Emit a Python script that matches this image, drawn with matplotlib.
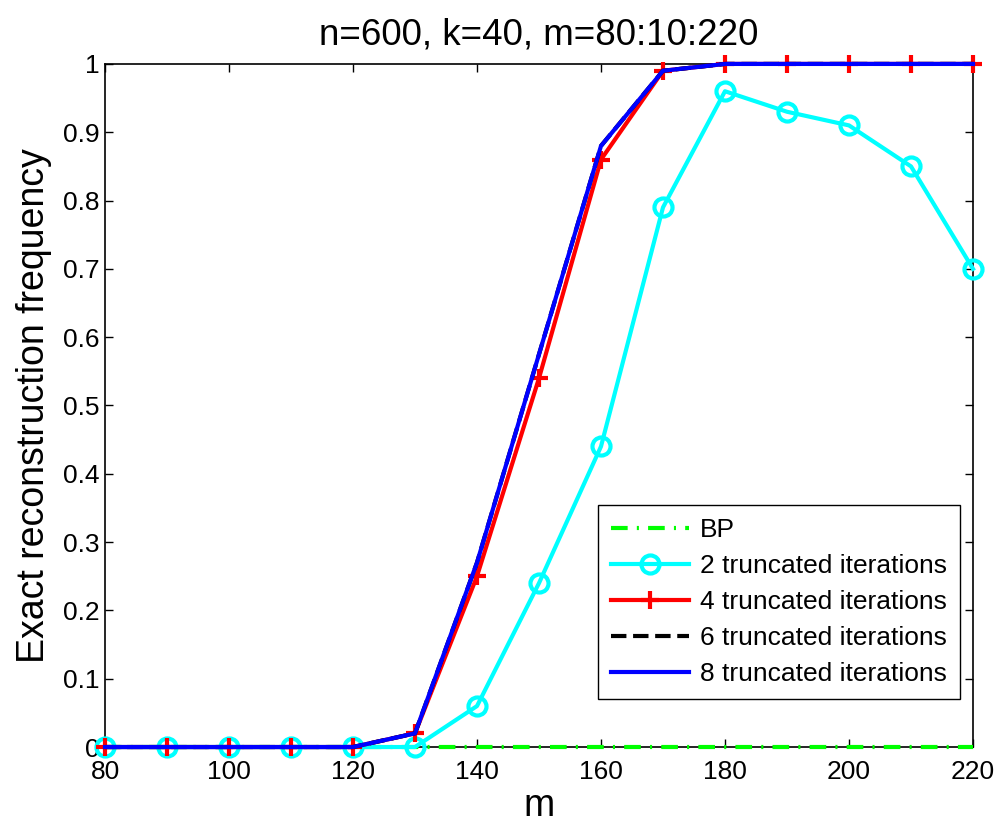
import numpy as np
import matplotlib.pyplot as plt

plt.rcParams['font.family'] = ['Liberation Sans', 'DejaVu Sans']

# Data
m = [80, 90, 100, 110, 120, 130, 140, 150, 160, 170, 180, 190, 200, 210, 220]
bp = [0, 0, 0, 0, 0, 0, 0, 0, 0, 0, 0, 0, 0, 0, 0]
trunc2 = [0, 0, 0, 0, 0, 0, 0.06, 0.24, 0.44, 0.79, 0.96, 0.93, 0.91, 0.85, 0.70]
trunc4 = [0, 0, 0, 0, 0, 0.02, 0.25, 0.54, 0.86, 0.99, 1, 1, 1, 1, 1]
trunc6 = [0, 0, 0, 0, 0, 0.02, 0.27, 0.575, 0.88, 0.99, 1, 1, 1, 1, 1]
trunc8 = [0, 0, 0, 0, 0, 0.02, 0.27, 0.575, 0.88, 0.99, 1, 1, 1, 1, 1]

fig = plt.figure(figsize=(10, 8.27), dpi=100)
ax = fig.add_axes([0.105, 0.0967, 0.868, 0.826])

ax.plot(m, bp, color=(0, 1, 0), linestyle=(0, (4, 2.2, 0.5, 2.2)), linewidth=3,
        label='BP', clip_on=False, zorder=3)
ax.plot(m, trunc2, color=(0, 1, 1), linewidth=3, marker='o', markersize=13,
        markerfacecolor='none', markeredgewidth=3, label='2 truncated iterations',
        clip_on=False, zorder=4)
ax.plot(m, trunc4, color=(1, 0, 0), linewidth=3, marker='+', markersize=13,
        markeredgewidth=3, label='4 truncated iterations', clip_on=False, zorder=5)
ax.plot(m, trunc6, color='k', linestyle='--', linewidth=3,
        label='6 truncated iterations', clip_on=False, zorder=6)
ax.plot(m, trunc8, color=(0, 0, 1), linewidth=3, label='8 truncated iterations',
        clip_on=False, zorder=7)

ax.set_xlim(80, 220)
ax.set_ylim(0, 1)
ax.set_xticks(np.arange(80, 221, 20))
ax.set_yticks(np.arange(0, 1.01, 0.1))
ax.set_yticklabels(['0', '0.1', '0.2', '0.3', '0.4', '0.5', '0.6', '0.7', '0.8', '0.9', '1'])
ax.tick_params(direction='in', top=True, right=True, labelsize=19, length=6, width=1)
ax.tick_params(axis='y', pad=4)
ax.tick_params(axis='x', pad=9)
for s in ax.spines.values():
    s.set_linewidth(1.2)

ax.set_title('n=600, k=40, m=80:10:220', fontsize=26.5, pad=14)
ax.set_xlabel('m', fontsize=27, labelpad=3)
ax.set_ylabel('Exact reconstruction frequency', fontsize=27, labelpad=8)

leg = ax.legend(loc='lower right', bbox_to_anchor=(0.985, 0.0703), borderaxespad=0,
                fontsize=19, fancybox=False, edgecolor='k', framealpha=1,
                handlelength=2.95, borderpad=0.5, labelspacing=0.45, handletextpad=0.4)
leg.get_frame().set_linewidth(1)
leg.set_zorder(10)

fig.savefig('out.png', dpi=100)
